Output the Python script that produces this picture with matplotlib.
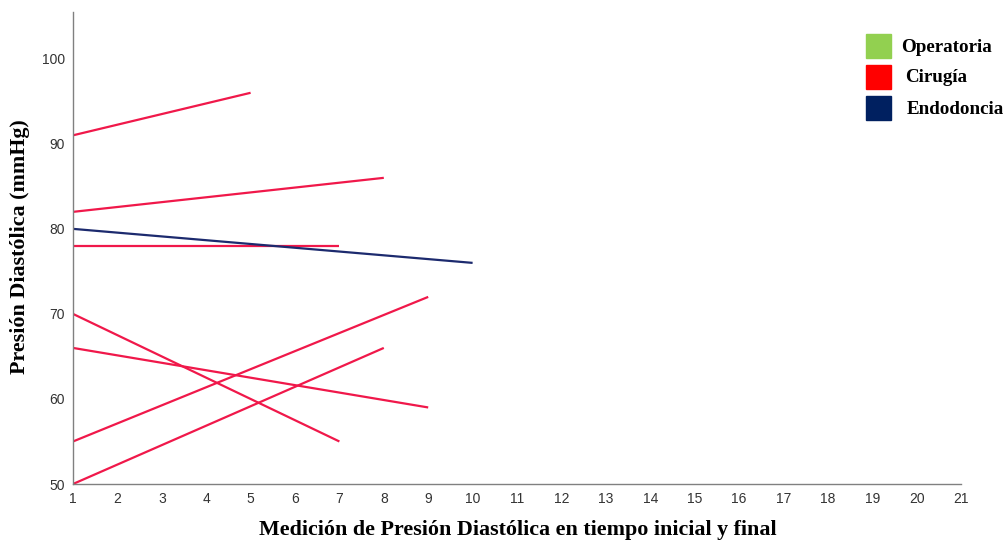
import matplotlib
matplotlib.use("Agg")
import matplotlib.pyplot as plt
from matplotlib.patches import Rectangle

# Data: each series is (start x, start y, end x, end y) reading
cirugia_x0 = [1, 1, 1, 1, 1, 1, 1]
cirugia_y0 = [91, 82, 78, 70, 66, 55, 50]
cirugia_x1 = [5, 8, 7, 7, 9, 9, 8]
cirugia_y1 = [96, 86, 78, 55, 59, 72, 66]

endo_x0 = [1]
endo_y0 = [80]
endo_x1 = [10]
endo_y1 = [76]

legend_labels = ["Operatoria", "Cirugía", "Endodoncia"]
legend_colors = ["#92D050", "#FF0000", "#002060"]

x_ticks = list(range(1, 22))
y_ticks = [50, 60, 70, 80, 90, 100]

line_red = "#F0184A"
line_navy = "#1C2A6E"

fig = plt.figure(figsize=(10.08, 5.41), dpi=100)
ax = fig.add_axes([73/1008, 1-484/541, (961-73)/1008, (484-12)/541])

for x0, y0, x1, y1 in zip(cirugia_x0, cirugia_y0, cirugia_x1, cirugia_y1):
    ax.plot([x0, x1], [y0, y1], color=line_red, lw=1.6, solid_capstyle="butt")
for x0, y0, x1, y1 in zip(endo_x0, endo_y0, endo_x1, endo_y1):
    ax.plot([x0, x1], [y0, y1], color=line_navy, lw=1.6, solid_capstyle="butt")

ax.set_xlim(1, 21)
ax.set_ylim(50, 105.5)
ax.set_xticks(x_ticks)
ax.set_yticks(y_ticks)
tick_font = ["Liberation Sans Narrow", "Liberation Sans", "DejaVu Sans"]
ax.set_xticklabels([str(t) for t in x_ticks], family=tick_font, fontsize=10, color="#333333")
ax.set_yticklabels([str(t) for t in y_ticks], family=tick_font, fontsize=10, color="#333333")
ax.tick_params(length=0, pad=6)
for s in ["top", "right"]:
    ax.spines[s].set_visible(False)
for s in ["left", "bottom"]:
    ax.spines[s].set_color("#808080")
    ax.spines[s].set_linewidth(1.0)

serif = ["Liberation Serif", "DejaVu Serif"]
fig.text(518/1008, 1-530/541, "Medición de Presión Diastólica en tiempo inicial y final",
         family=serif, fontweight="bold", fontsize=15.8, ha="center", va="center")
fig.text(20/1008, 1-247/541, "Presión Diastólica (mmHg)",
         family=serif, fontweight="bold", fontsize=15.8, ha="center", va="center", rotation=90)

# Legend drawn manually in figure coordinates
patch_y = [34, 65, 96]
text_x = [901, 905, 907]
for lab, col, py, tx in zip(legend_labels, legend_colors, patch_y, text_x):
    fig.patches.append(Rectangle((866/1008, 1-(py+24)/541), 25/1008, 24/541,
                                 transform=fig.transFigure, color=col, zorder=5))
    fig.text(tx/1008, 1-(py+13)/541, lab, family=serif, fontweight="bold",
             fontsize=13.7, ha="left", va="center")

fig.savefig("out.png", dpi=100)
